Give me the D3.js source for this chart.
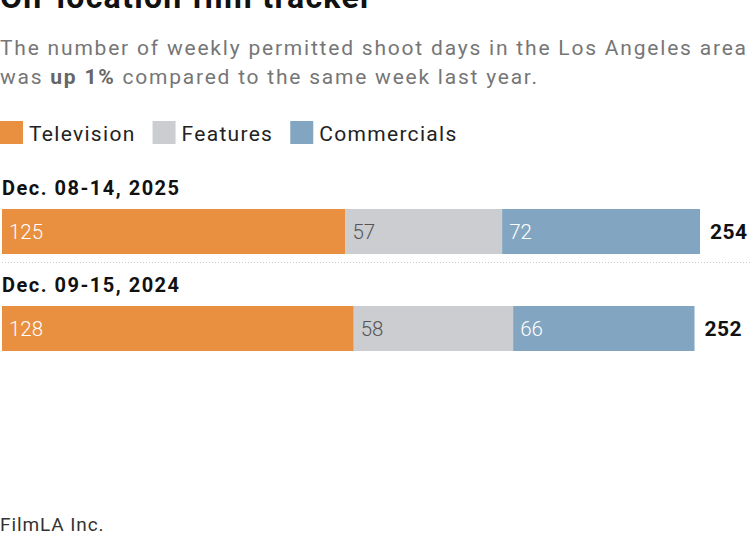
<!DOCTYPE html>
<html>
<head>
<meta charset="utf-8">
<script src="https://cdn.jsdelivr.net/npm/d3@7"></script>
<style>
  body { margin: 0; background: #fff; }
  svg { display: block; font-family: Roboto, "Liberation Sans", sans-serif; }
</style>
</head>
<body>
<div id="chart"></div>
<script>
// data
const weeks = ['Dec. 08-14, 2025', 'Dec. 09-15, 2024'];
const categories = ['Television', 'Features', 'Commercials'];
const television = [125, 128];
const features = [57, 58];
const commercials = [72, 66];

const colors = ['#e88f40', '#cbcdd1', '#82a6c1'];
const labelColors = ['#fff', '#555', '#fff'];

const width = 750, height = 536;

const svg = d3.select('#chart').append('svg')
    .attr('width', width)
    .attr('height', height);

// title + subtitle
svg.append('text')
    .attr('x', 0).attr('y', 8)
    .style('font-size', '32px')
    .style('font-weight', 'bold')
    .style('letter-spacing', '1.3px')
    .attr('fill', '#111')
    .text('On-location film tracker');

const sub = svg.append('g').attr('fill', '#767676').style('font-size', '21px');
sub.append('text').attr('x', 0).attr('y', 55)
    .attr('textLength', 746).attr('lengthAdjust', 'spacing')
    .text('The number of weekly permitted shoot days in the Los Angeles area');
const sub2 = sub.append('text').attr('x', 0).attr('y', 84)
    .attr('textLength', 537).attr('lengthAdjust', 'spacing');
sub2.append('tspan').text('was ');
sub2.append('tspan').style('font-weight', 'bold').attr('fill', '#666').text('up 1%');
sub2.append('tspan').text(' compared to the same week last year.');

// legend
const legend = svg.append('g').attr('transform', 'translate(0,121)');
let lx = 0;
categories.forEach((c, i) => {
    const item = legend.append('g').attr('transform', `translate(${lx},0)`);
    item.append('rect').attr('width', 23).attr('height', 23).attr('fill', colors[i]);
    const t = item.append('text')
        .attr('x', 29).attr('y', 20)
        .style('font-size', '21px')
        .style('letter-spacing', '1.3px')
        .attr('fill', '#222')
        .text(c);
    lx += 29 + t.node().getComputedTextLength() + 17;
});

// stacked bars
const rows = weeks.map((w, i) => ({
    week: w,
    values: [television[i], features[i], commercials[i]]
}));

const x = d3.scaleLinear()
    .domain([0, 254])
    .range([2, 700]);

const rowTop = [177, 274];
const barH = 45, barOff = 32;

rows.forEach((r, i) => {
    const g = svg.append('g').attr('transform', `translate(0,${rowTop[i]})`);
    g.append('text')
        .attr('x', 2).attr('y', 18)
        .style('font-size', '20px')
        .style('font-weight', 'bold')
        .style('letter-spacing', '1.5px')
        .attr('fill', '#111')
        .text(r.week);

    let acc = 0;
    r.values.forEach((v, j) => {
        const x0 = x(acc), x1 = x(acc + v);
        g.append('rect')
            .attr('x', x0).attr('y', barOff)
            .attr('width', x1 - x0).attr('height', barH)
            .attr('fill', colors[j]);
        g.append('text')
            .attr('x', x0 + 7).attr('y', barOff + barH / 2 + 7)
            .style('font-size', '20.5px')
            .style('font-weight', 300)
            .attr('fill', labelColors[j])
            .text(v);
        acc += v;
    });

    g.append('text')
        .attr('x', x(acc) + 10).attr('y', barOff + barH / 2 + 7)
        .style('font-size', '21px')
        .style('font-weight', 'bold')
        .style('letter-spacing', '0.5px')
        .attr('fill', '#111')
        .text(d3.sum(r.values));
});

// dotted separator
svg.append('line')
    .attr('x1', 2).attr('x2', 750)
    .attr('y1', 262.5).attr('y2', 262.5)
    .attr('stroke', '#ccc')
    .attr('stroke-width', 1)
    .attr('stroke-dasharray', '1,2');

// source
svg.append('text')
    .attr('x', 0).attr('y', 531)
    .style('font-size', '19px')
    .style('letter-spacing', '0.9px')
    .attr('fill', '#333')
    .text('FilmLA Inc.');
</script>
</body>
</html>
